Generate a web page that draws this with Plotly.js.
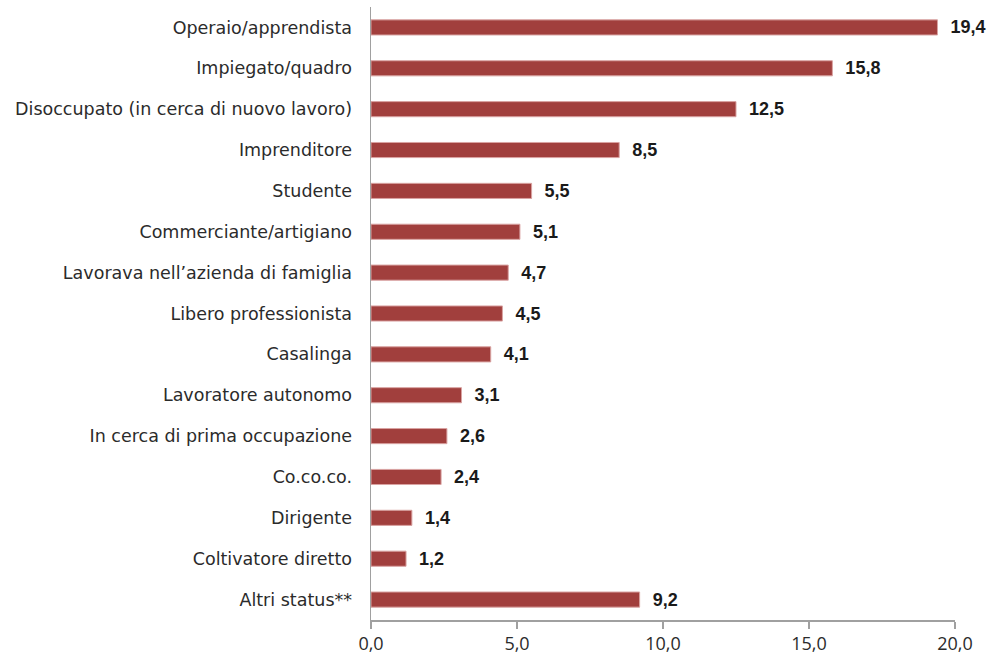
<!DOCTYPE html>
<html>
<head>
<meta charset="utf-8">
<script src="https://cdn.plot.ly/plotly-3.0.1.min.js"></script>
<style>html,body{margin:0;padding:0;background:#fff;}#chart{width:997px;height:658px;}</style>
</head>
<body>
<div id="chart"></div>
<script>
var categories = [
  "Operaio/apprendista",
  "Impiegato/quadro",
  "Disoccupato (in cerca di nuovo lavoro)",
  "Imprenditore",
  "Studente",
  "Commerciante/artigiano",
  "Lavorava nell\u2019azienda di famiglia",
  "Libero professionista",
  "Casalinga",
  "Lavoratore autonomo",
  "In cerca di prima occupazione",
  "Co.co.co.",
  "Dirigente",
  "Coltivatore diretto",
  "Altri status**"
];
var values = [19.4, 15.8, 12.5, 8.5, 5.5, 5.1, 4.7, 4.5, 4.1, 3.1, 2.6, 2.4, 1.4, 1.2, 9.2];
var tickValues = [0, 5, 10, 15, 20];
var tickLabels = ["0,0", "5,0", "10,0", "15,0", "20,0"];

var labels = values.map(function(v){ return "\u00a0\u00a0" + v.toFixed(1).replace(".", ","); });

var trace = {
  type: "bar",
  orientation: "h",
  y: categories,
  x: values,
  text: labels,
  textposition: "outside",
  constraintext: "none",
  cliponaxis: false,
  textfont: {family: "Liberation Sans, Arial, sans-serif", size: 18, color: "#1a1a1a", weight: "bold"},
  marker: {color: "#a13f3d", line: {color: "#d9a3a2", width: 1}},
  hoverinfo: "none"
};

var layout = {
  width: 997,
  height: 658,
  margin: {l: 371, r: 42, t: 6.5, b: 37.5},
  paper_bgcolor: "#ffffff",
  plot_bgcolor: "#ffffff",
  showlegend: false,
  bargap: 0.63,
  font: {family: "DejaVu Sans, sans-serif", color: "#2b2b2b"},
  xaxis: {
    range: [0, 20],
    tickvals: tickValues,
    ticktext: tickLabels,
    showgrid: false,
    zeroline: false,
    showline: true,
    linecolor: "#a0a0a0",
    linewidth: 1.5,
    ticks: "outside",
    ticklen: 7,
    tickwidth: 1.5,
    tickcolor: "#a0a0a0",
    tickfont: {family: "Open Sans, sans-serif", size: 18, color: "#2b2b2b"},
    fixedrange: true
  },
  yaxis: {
    autorange: "reversed",
    showgrid: false,
    zeroline: false,
    showline: true,
    linecolor: "#a0a0a0",
    linewidth: 1.5,
    ticks: "",
    ticklabelstandoff: 14,
    tickfont: {family: "DejaVu Sans, sans-serif", size: 17.5, color: "#2b2b2b"},
    fixedrange: true
  }
};

Plotly.newPlot("chart", [trace], layout, {displayModeBar: false, staticPlot: true});
</script>
</body>
</html>
